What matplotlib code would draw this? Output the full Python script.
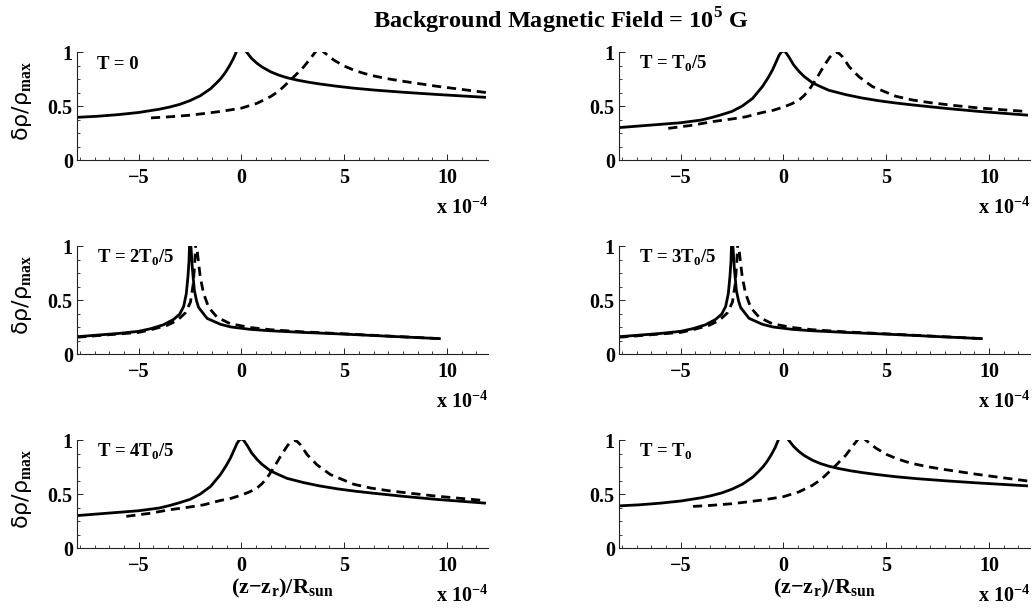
import matplotlib
matplotlib.use("Agg")
import matplotlib.pyplot as plt
from matplotlib.ticker import MultipleLocator, FixedLocator, FixedFormatter

plt.rcParams['font.family'] = ['Liberation Serif', 'DejaVu Serif']
plt.rcParams['font.weight'] = 'bold'
plt.rcParams['mathtext.fontset'] = 'custom'
plt.rcParams['mathtext.rm'] = 'DejaVu Sans:normal'
plt.rcParams['mathtext.it'] = 'DejaVu Sans:normal'
plt.rcParams['mathtext.bf'] = 'Liberation Serif:bold'

# ---------------- data (x in units of 1e-4) ----------------
titles = ["T = 0", r"T = T$_{\mathbf{0}}$/5", r"T = 2T$_{\mathbf{0}}$/5",
          r"T = 3T$_{\mathbf{0}}$/5", r"T = 4T$_{\mathbf{0}}$/5", r"T = T$_{\mathbf{0}}$"]

# T = 0
t0_solid_x = [-8, -7, -6, -5, -4, -3.5, -3, -2.5, -2, -1.5, -1.2, -1, -0.8, -0.6, -0.4, -0.25, 0, 0.25, 0.5, 0.76, 1.0, 1.41, 1.8, 2.22, 2.71, 3.3, 3.85, 4.6, 5.47, 6.5, 7.9, 9.5, 11.9]
t0_solid_y = [0.395, 0.405, 0.42, 0.44, 0.47, 0.49, 0.515, 0.55, 0.595, 0.66, 0.715, 0.755, 0.805, 0.865, 0.935, 1.0, 1.12, 1.0, 0.94, 0.895, 0.862, 0.818, 0.787, 0.762, 0.740, 0.719, 0.703, 0.684, 0.665, 0.647, 0.627, 0.607, 0.580]
t0_dash_x = [-4.4, -3.5, -2.5, -1.83, -1, 0, 0.76, 1.41, 1.8, 2.06, 2.55, 3.04, 3.36, 3.6, 3.8, 4.0, 4.5, 5.0, 5.5, 6.0, 6.5, 7.1, 7.9, 9.5, 11.9]
t0_dash_y = [0.39, 0.40, 0.415, 0.43, 0.45, 0.48, 0.525, 0.586, 0.635, 0.68, 0.77, 0.864, 0.94, 1.0, 1.05, 1.0, 0.925, 0.87, 0.83, 0.80, 0.776, 0.753, 0.728, 0.683, 0.625]

# T = T0/5
t1_solid_x = [-8, -7, -6, -5, -4, -3.46, -3, -2.5, -2, -1.5, -1.02, -0.75, -0.54, -0.35, -0.21, -0.1, 0, 0.1, 0.28, 0.5, 0.76, 1.0, 1.41, 1.8, 2.22, 3.04, 3.8, 4.66, 5.5, 6.28, 7.9, 9.5, 11.9]
t1_solid_y = [0.30, 0.315, 0.33, 0.345, 0.37, 0.395, 0.42, 0.45, 0.50, 0.57, 0.68, 0.76, 0.83, 0.91, 0.97, 1.0, 1.01, 1.0, 0.95, 0.88, 0.82, 0.775, 0.715, 0.68, 0.645, 0.605, 0.575, 0.548, 0.527, 0.51, 0.478, 0.45, 0.415]
t1_dash_x = [-5.6, -4.5, -3.46, -2.5, -1.83, -1.02, -0.5, 0, 0.4, 0.76, 1.0, 1.25, 1.46, 1.66, 1.86, 2.06, 2.25, 2.39, 2.58, 2.72, 2.87, 3.2, 3.68, 4.33, 5.47, 6.3, 7.1, 8.3, 9.5, 11.9]
t1_dash_y = [0.293, 0.32, 0.355, 0.38, 0.40, 0.44, 0.46, 0.49, 0.52, 0.555, 0.595, 0.65, 0.71, 0.77, 0.835, 0.895, 0.95, 0.98, 1.0, 0.985, 0.957, 0.864, 0.77, 0.68, 0.59, 0.555, 0.532, 0.505, 0.482, 0.448]

# T = 2T0/5
t2_solid_x = [-8, -6, -5, -4.4, -3.8, -3.3, -3.0, -2.81, -2.68, -2.60, -2.55, -2.52, -2.48, -2.45, -2.39, -2.29, -2.18, -2.08, -1.67, -1.02, -0.5, 0.44, 1.41, 3, 4.66, 6, 8, 9.7]
t2_solid_y = [0.16, 0.19, 0.21, 0.235, 0.27, 0.32, 0.37, 0.44, 0.56, 0.72, 0.86, 1.03, 1.03, 0.98, 0.80, 0.59, 0.49, 0.43, 0.33, 0.275, 0.25, 0.228, 0.215, 0.20, 0.187, 0.175, 0.157, 0.142]
t2_dash_x = [-8, -6, -5, -4.4, -3.62, -3.13, -2.73, -2.48, -2.35, -2.27, -2.22, -2.18, -2.13, -2.0, -1.84, -1.59, -1.18, -0.54, 0.44, 1.41, 3, 4.66, 6, 8, 9.7]
t2_dash_y = [0.155, 0.185, 0.20, 0.225, 0.265, 0.31, 0.38, 0.48, 0.64, 0.84, 1.03, 1.03, 0.92, 0.71, 0.56, 0.43, 0.34, 0.28, 0.245, 0.225, 0.205, 0.19, 0.177, 0.158, 0.142]

# T = 3T0/5
t3_solid_x = [-8, -6, -5, -4.4, -3.8, -3.3, -3.0, -2.81, -2.68, -2.60, -2.55, -2.52, -2.48, -2.45, -2.39, -2.29, -2.18, -2.08, -1.67, -1.02, -0.5, 0.44, 1.41, 3, 4.66, 6, 8, 9.7]
t3_solid_y = [0.16, 0.19, 0.21, 0.235, 0.27, 0.32, 0.37, 0.44, 0.56, 0.72, 0.86, 1.03, 1.03, 0.98, 0.80, 0.59, 0.49, 0.43, 0.33, 0.275, 0.25, 0.228, 0.215, 0.20, 0.187, 0.175, 0.157, 0.142]
t3_dash_x = [-8, -6, -5, -4.4, -3.62, -3.13, -2.73, -2.48, -2.35, -2.27, -2.22, -2.18, -2.13, -2.0, -1.84, -1.59, -1.18, -0.54, 0.44, 1.41, 3, 4.66, 6, 8, 9.7]
t3_dash_y = [0.155, 0.185, 0.20, 0.225, 0.265, 0.31, 0.38, 0.48, 0.64, 0.84, 1.03, 1.03, 0.92, 0.71, 0.56, 0.43, 0.34, 0.28, 0.245, 0.225, 0.205, 0.19, 0.177, 0.158, 0.142]

# T = 4T0/5
t4_solid_x = [-8, -7, -6, -5, -4, -3.46, -3, -2.5, -2, -1.5, -1.02, -0.75, -0.54, -0.35, -0.21, -0.1, 0, 0.1, 0.28, 0.5, 0.76, 1.0, 1.41, 1.8, 2.22, 3.04, 3.8, 4.66, 5.5, 6.28, 7.9, 9.5, 11.9]
t4_solid_y = [0.30, 0.315, 0.33, 0.345, 0.37, 0.395, 0.42, 0.45, 0.50, 0.57, 0.68, 0.76, 0.83, 0.91, 0.97, 1.0, 1.01, 1.0, 0.95, 0.88, 0.82, 0.775, 0.715, 0.68, 0.645, 0.605, 0.575, 0.548, 0.527, 0.51, 0.478, 0.45, 0.415]
t4_dash_x = [-5.6, -4.5, -3.46, -2.5, -1.83, -1.02, -0.5, 0, 0.4, 0.76, 1.0, 1.25, 1.46, 1.66, 1.86, 2.06, 2.25, 2.39, 2.58, 2.72, 2.87, 3.2, 3.68, 4.33, 5.47, 6.3, 7.1, 8.3, 9.5, 11.9]
t4_dash_y = [0.293, 0.32, 0.355, 0.38, 0.40, 0.44, 0.46, 0.49, 0.52, 0.555, 0.595, 0.65, 0.71, 0.77, 0.835, 0.895, 0.95, 0.98, 1.0, 0.985, 0.957, 0.864, 0.77, 0.68, 0.59, 0.555, 0.532, 0.505, 0.48, 0.438]

# T = T0
t5_solid_x = [-8, -7, -6, -5, -4, -3.5, -3, -2.5, -2, -1.5, -1.2, -1, -0.8, -0.6, -0.4, -0.25, 0, 0.25, 0.5, 0.76, 1.0, 1.41, 1.8, 2.22, 2.71, 3.3, 3.85, 4.6, 5.47, 6.5, 7.9, 9.5, 11.9]
t5_solid_y = [0.39, 0.40, 0.415, 0.435, 0.465, 0.485, 0.51, 0.545, 0.59, 0.655, 0.71, 0.75, 0.80, 0.86, 0.93, 1.0, 1.12, 1.0, 0.94, 0.893, 0.858, 0.813, 0.782, 0.757, 0.735, 0.714, 0.698, 0.679, 0.66, 0.642, 0.622, 0.602, 0.575]
t5_dash_x = [-4.4, -3.5, -2.5, -1.83, -1, 0, 0.76, 1.41, 1.8, 2.06, 2.55, 3.04, 3.36, 3.6, 3.8, 4.0, 4.5, 5.0, 5.5, 6.0, 6.5, 7.1, 7.9, 9.5, 11.9]
t5_dash_y = [0.385, 0.395, 0.41, 0.425, 0.445, 0.475, 0.52, 0.58, 0.63, 0.675, 0.765, 0.86, 0.94, 1.0, 1.05, 1.0, 0.925, 0.868, 0.828, 0.797, 0.773, 0.75, 0.725, 0.68, 0.62]

solid = [(t0_solid_x, t0_solid_y), (t1_solid_x, t1_solid_y), (t2_solid_x, t2_solid_y),
         (t3_solid_x, t3_solid_y), (t4_solid_x, t4_solid_y), (t5_solid_x, t5_solid_y)]
dashed = [(t0_dash_x, t0_dash_y), (t1_dash_x, t1_dash_y), (t2_dash_x, t2_dash_y),
          (t3_dash_x, t3_dash_y), (t4_dash_x, t4_dash_y), (t5_dash_x, t5_dash_y)]

xticks = [-5, 0, 5, 10]
xticklabels = ["\u22125", "0", "5", "10"]
yticks = [0, 0.5, 1]
yticklabels = ["0", "0.5", "1"]

# ---------------- figure ----------------
W, H = 1033, 610
fig = plt.figure(figsize=(W / 100, H / 100), dpi=100)

col_left = [77, 619]
ax_w = 411
row_bottom = [160, 354, 548]
ax_h = 108

axes = []
for i in range(6):
    r, c = divmod(i, 2)
    ax = fig.add_axes([col_left[c] / W, 1 - row_bottom[r] / H, ax_w / W, ax_h / H])
    axes.append(ax)
    xs, ys = solid[i]
    ax.plot(xs, ys, color='black', lw=2.0, solid_capstyle='butt', solid_joinstyle='round')
    xd, yd = dashed[i]
    ax.plot(xd, yd, color='black', lw=2.0, dashes=(3.3, 2.1), dash_capstyle='butt',
            dash_joinstyle='round')
    ax.set_xlim(-8, 12)
    ax.set_ylim(0, 1)
    for s in ['top', 'right']:
        ax.spines[s].set_visible(False)
    for s in ['left', 'bottom']:
        ax.spines[s].set_linewidth(0.8)
        ax.spines[s].set_color('#222222')
    ax.xaxis.set_major_locator(FixedLocator(xticks))
    ax.xaxis.set_major_formatter(FixedFormatter(xticklabels))
    ax.xaxis.set_minor_locator(MultipleLocator(5 / 7))
    ax.yaxis.set_major_locator(FixedLocator(yticks))
    ax.yaxis.set_major_formatter(FixedFormatter(yticklabels))
    ax.yaxis.set_minor_locator(MultipleLocator(0.125))
    ax.tick_params(which='major', direction='in', length=4, width=0.7, color='#222222',
                   labelsize=14.5)
    ax.tick_params(which='minor', direction='in', length=2.2, width=0.6, color='#222222')
    ax.tick_params(axis='x', which='major', pad=6)
    ax.tick_params(axis='y', which='major', pad=3)
    for lab in ax.get_xticklabels() + ax.get_yticklabels():
        lab.set_fontweight('bold')
    ax.set_facecolor('none')

    ax.text(20 / ax_w, 1 - 17 / ax_h, titles[i], transform=ax.transAxes,
            fontsize=13.5, fontweight='bold', ha='left', va='baseline')

    ax.annotate(r"x 10$^{\mathbf{-4}}$", xy=(1, 0), xycoords='axes fraction',
                xytext=(0, -54), textcoords='offset pixels', ha='right', va='baseline',
                fontsize=14.5, fontweight='bold')

    if c == 0:
        ax.text(-55 / ax_w, 0.545, r"$\delta\rho/\rho_{\mathbf{max}}$", transform=ax.transAxes,
                rotation=90, ha='center', va='center', fontsize=16)
    if r == 2:
        ax.annotate("(z\u2212z$_{\\mathbf{r}}$)/R$_{\\mathbf{sun}}$", xy=(0.5, 0),
                    xycoords='axes fraction', xytext=(0, -45), textcoords='offset pixels',
                    ha='center', va='baseline', fontsize=16, fontweight='bold')

fig.text(561 / W, 1 - 28 / H, r"Background Magnetic Field = 10$^{\mathbf{5}}$ G",
         ha='center', va='baseline', fontsize=17.5, fontweight='bold')

fig.savefig("out.png", dpi=100)
